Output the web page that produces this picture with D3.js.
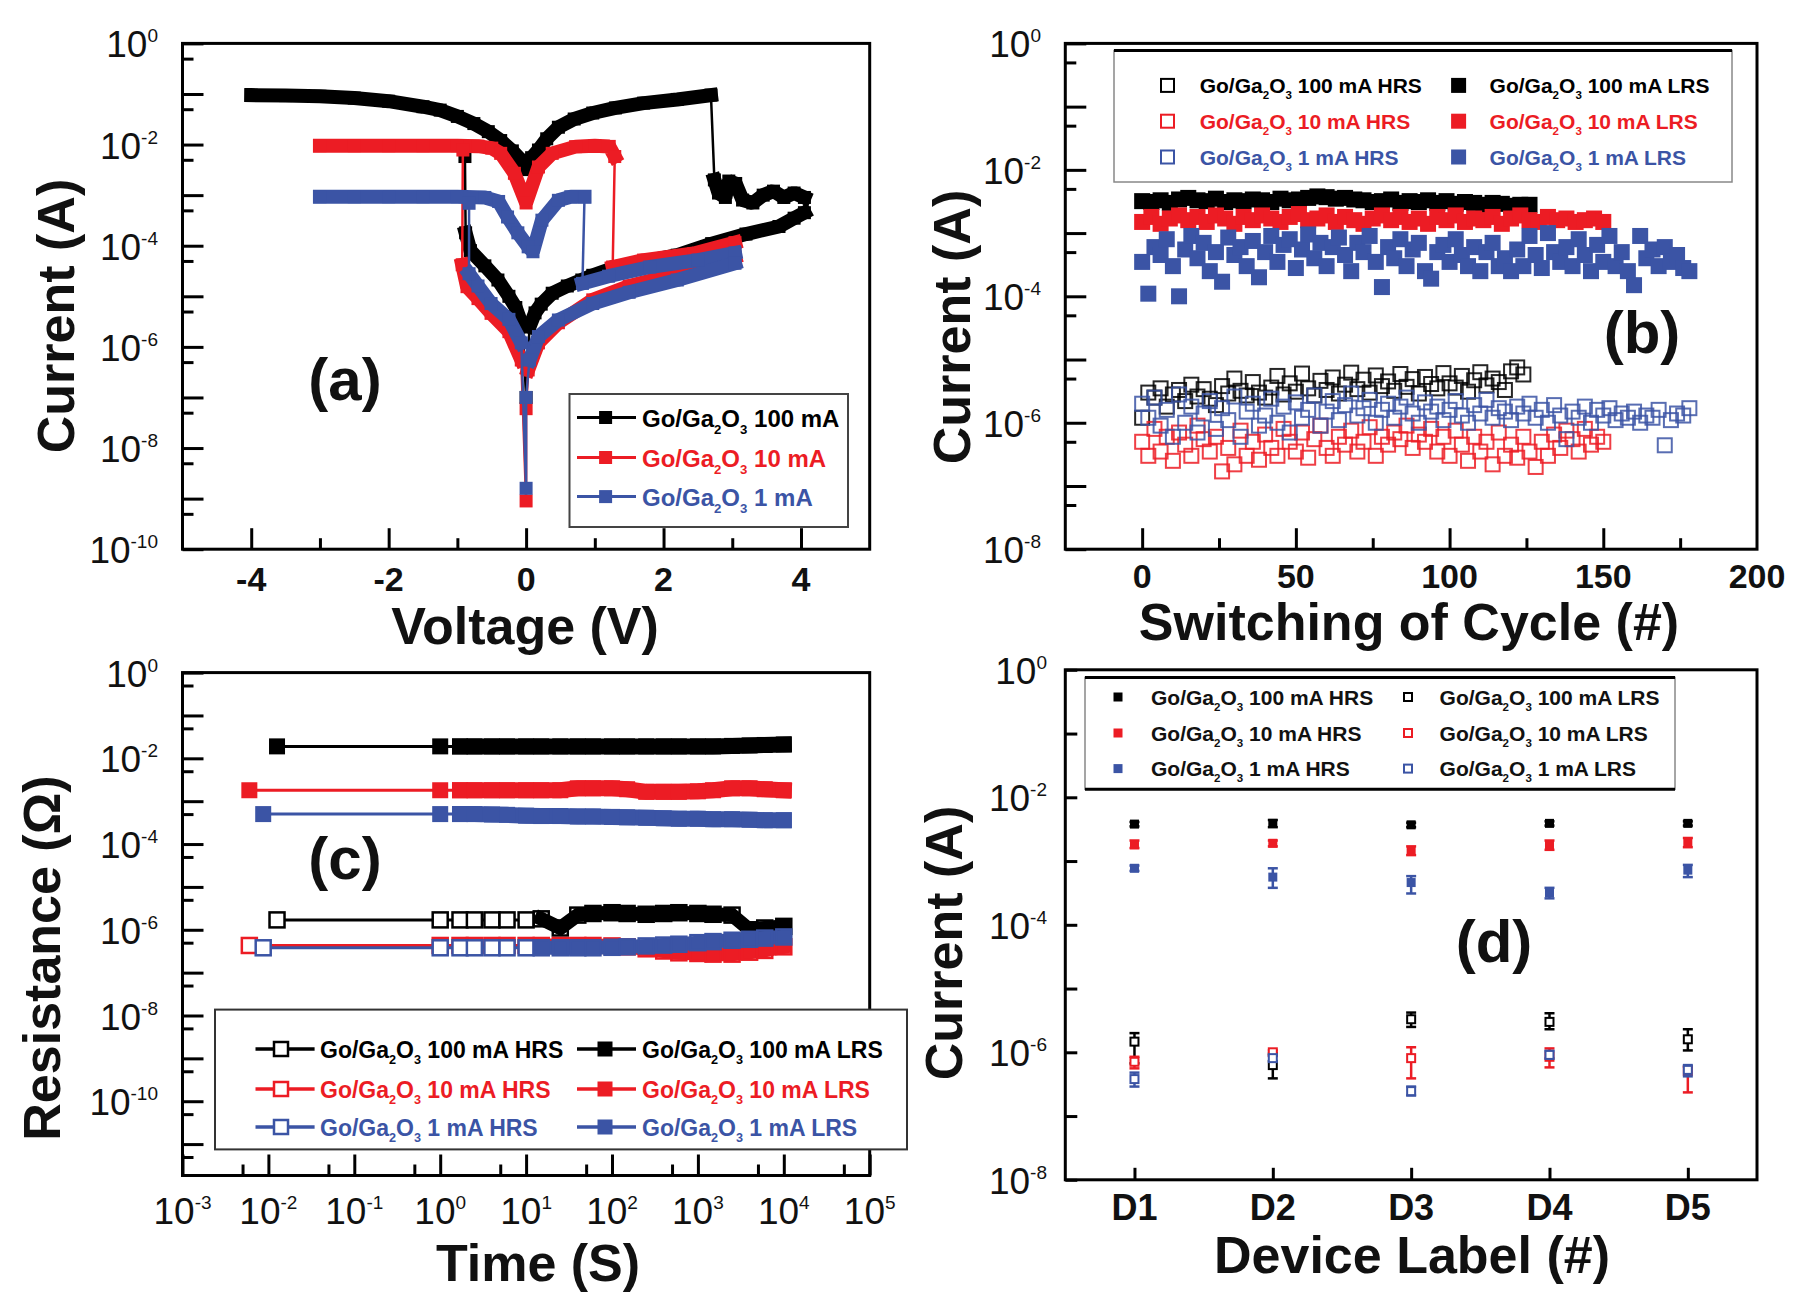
<!DOCTYPE html>
<html>
<head>
<meta charset="UTF-8">
<title>Go/Ga2O3 resistive switching</title>
<script src="https://d3js.org/d3.v7.min.js"></script>
<style>
  body { margin: 0; background: #fff; }
  svg { display: block; }
</style>
</head>
<body>
<div id="chart"></div>
<script>
// ---------- (a) I-V sweeps, [voltage V, current A], in sweep order ----------
const ivBlackLRS = [[-4.0,9.5e-2],[-3.5,9.3e-2],[-3.0,9.0e-2],[-2.5,8.3e-2],[-2.0,7.2e-2],[-1.5,5.6e-2],[-1.25,4.8e-2],[-1.0,3.6e-2],[-0.76,2.6e-2],[-0.55,1.8e-2],[-0.37,1.2e-2],[-0.2,7.5e-3],[-0.07,4.9e-3],[0.0,3.2e-3],[0.08,5.5e-3],[0.18,7.8e-3],[0.3,1.3e-2],[0.47,2.2e-2],[0.7,3.2e-2],[0.97,4.2e-2],[1.3,5.3e-2],[1.71,6.6e-2],[2.2,7.8e-2],[2.69,9.5e-2]];
const ivBlackReset = [[2.74,2.0e-3],[2.8,1.1e-3],[2.9,9e-4],[2.95,1.9e-3],[3.05,1.7e-3],[3.15,8e-4],[3.3,7e-4],[3.45,1.0e-3],[3.6,1.2e-3],[3.75,9e-4],[3.9,1.1e-3],[4.05,9e-4]];
const ivBlackHRS = [[4.05,4.5e-4],[3.9,3.5e-4],[3.68,2.4e-4],[3.2,1.7e-4],[2.7,1.1e-4],[2.2,6.5e-5],[1.7,4.8e-5],[1.31,3.8e-5],[0.97,2.6e-5],[0.81,2.1e-5],[0.6,1.6e-5],[0.38,1.15e-5],[0.22,7e-6],[0.13,4.7e-6],[0.05,2.5e-6]];
const ivBlackDip = [[0.0,1e-7]];
const ivBlackNeg = [[-0.05,2.5e-6],[-0.15,6e-6],[-0.25,1e-5],[-0.41,2.1e-5],[-0.6,4e-5],[-0.81,8e-5],[-0.88,1.8e-4]];
const ivBlackSet = [[-0.89,5.8e-3]];

const ivRedLRS = [[-3.0,9.5e-3],[-2.5,9.5e-3],[-2.0,9.5e-3],[-1.5,9.5e-3],[-1.0,9.5e-3],[-0.7,9.3e-3],[-0.5,8.5e-3],[-0.37,6.7e-3],[-0.17,2.7e-3],[0.0,7e-4],[0.18,3.6e-3],[0.38,6.7e-3],[0.72,9.1e-3],[1.0,9.5e-3],[1.21,9.2e-3],[1.29,5.8e-3]];
const ivRedReset = [[1.26,3.8e-5],[1.71,5.2e-5],[2.44,7.0e-5],[3.04,1.15e-4]];
const ivRedHRS = [[3.04,6e-5],[2.2,2.8e-5],[1.5,1.6e-5],[0.97,8.5e-6],[0.47,3e-6],[0.18,1.2e-6],[0.03,3.5e-7]];
const ivRedDip = [[0.0,6e-8],[0.0,9e-10]];
const ivRedNeg = [[-0.07,5.5e-7],[-0.25,2e-6],[-0.51,4.6e-6],[-0.7,9e-6],[-0.86,1.55e-5],[-0.93,4.2e-5]];
const ivRedSet = [[-0.92,7.8e-3]];

const ivBlueLRS = [[-3.0,9.3e-4],[-2.5,9.3e-4],[-2.0,9.3e-4],[-1.5,9.3e-4],[-1.0,9.3e-4],[-0.6,9e-4],[-0.4,7.5e-4],[-0.27,3.7e-4],[-0.12,1.8e-4],[0.03,9.5e-5],[0.1,7.6e-5],[0.23,3.2e-4],[0.47,7.9e-4],[0.65,9.3e-4],[0.85,9.3e-4]];
const ivBlueReset = [[0.82,1.8e-5],[1.2,2.5e-5],[1.8,3.8e-5],[2.5,5.2e-5],[3.04,7.2e-5]];
const ivBlueHRS = [[3.04,4.5e-5],[2.2,2.1e-5],[1.5,1.2e-5],[0.97,7.2e-6],[0.47,3.4e-6],[0.18,1.6e-6],[0.05,5.5e-7]];
const ivBlueDip = [[0.0,1e-7],[0.0,1.6e-9]];
const ivBlueNeg = [[-0.07,1.2e-6],[-0.25,3.5e-6],[-0.51,7.2e-6],[-0.7,1.6e-5],[-0.83,2.8e-5]];
const ivBlueSet = [[-0.83,6.9e-4]];

const aLegend = ["100 mA", "10 mA", "1 mA"];
const aXTicks = [-4, -2, 0, 2, 4];
const aYExp = [0, -2, -4, -6, -8, -10];

// ---------- (b) endurance: one value every `step` cycles, starting at cycle 0 ----------
const bLrsStep = 3;   // LRS black / red
const bBlueLrsStep = 2;
const bHrsStep = 2;
const bBlackLRS_mA = [3.2,3.1,3.3,3.0,3.4,3.6,3.3,3.2,3.5,3.1, 3.3,3.2,3.4,3.3,3.1,3.5,3.3,3.4,3.6,3.8, 3.7,3.5,3.6,3.4,3.3,3.1,3.2,3.4,3.0,3.2, 3.1,3.3,3.0,3.2,2.9,3.1,3.0,2.8,3.0,2.9, 2.7,2.8,2.8];
const bRedLRS_mA = [1.5,1.8,1.4,1.7,1.9,1.6,1.8,1.5,1.9,1.7, 1.4,1.8,1.6,1.9,1.7,1.5,1.8,2.0,1.6,1.7, 1.9,1.5,1.8,1.6,1.4,1.7,1.9,1.6,1.8,1.5, 1.7,1.4,1.8,1.6,1.9,1.5,1.7,1.6,1.8,1.4, 1.7,1.9,1.6,1.5,1.8,1.6,1.7,1.5,1.6,1.7, 1.5];
const bBlueLRS_mA = [0.35,0.11,0.6,0.45,0.8,0.3,0.1,0.55,0.9,0.4, 0.7,0.25,0.5,0.17,0.85,0.45,0.6,0.3,0.75,0.2, 0.5,0.9,0.35,0.65,0.8,0.28,0.55,0.95,0.4,0.7, 0.3,0.6,0.85,0.45,0.25,0.7,0.5,0.9,0.35,0.14, 0.6,0.4,0.8,0.3,0.55,0.7,0.25,0.19,0.5,0.65, 0.35,0.8,0.45,0.3,0.6,0.25,0.5,0.7,0.3,0.4, 0.25,0.55,0.3,0.9,0.45,0.28,1.0,0.5,0.35,0.6, 0.3,0.8,0.45,0.25,0.65,0.35,0.9,0.3,0.5,0.25, 0.15,0.9,0.4,0.55,0.3,0.6,0.35,0.45,0.28,0.25];
const bBlackHRS_uA = [1.2,3.0,2.5,3.5,1.8,2.8,3.3,2.2,4.0,2.6, 3.4,2.4,1.9,3.8,2.9,5.0,3.2,2.7,4.4,3.0, 2.5,3.6,5.5,2.8,4.2,3.1,6.0,3.5,2.7,4.6, 3.3,5.2,2.9,4.0,6.2,3.4,4.8,3.0,5.6,3.8, 4.5,3.2,5.9,3.7,4.9,2.9,5.3,4.1,3.5,6.1, 4.2,3.6,5.5,3.1,4.7,6.3,3.9,5.0,4.4,3.3, 6.5,7.5,5.8];
const bRedHRS_uA = [0.5,0.3,0.8,0.35,0.6,0.25,0.7,0.45,0.3,0.9, 0.55,0.35,0.6,0.17,0.4,0.22,0.75,0.3,0.5,0.26, 0.65,0.4,0.3,0.8,0.5,0.35,0.7,0.28,0.55,0.9, 0.4,0.3,0.6,0.45,0.75,0.35,0.5,0.85,0.3,0.6, 0.45,0.7,0.55,0.9,0.4,0.65,0.5,0.8,0.35,0.6, 0.3,0.75,0.45,0.25,0.6,0.35,0.5,0.22,0.7,0.3, 0.45,0.28,0.6,0.35,0.2,0.5,0.3,0.65,0.4,0.75, 0.55,0.35,0.8,0.45,0.6,0.5];
const bBlueHRS_uA = [2.0,1.2,2.5,0.9,1.6,0.6,2.8,1.0,1.8,0.7, 1.4,2.2,0.8,1.7,1.1,2.6,0.6,1.5,2.0,0.9, 1.3,2.4,1.0,1.8,0.7,2.1,1.2,1.6,2.7,0.9, 1.5,2.2,1.1,1.9,2.9,1.3,1.7,2.3,1.0,1.6, 2.0,1.2,1.8,2.5,1.4,1.0,2.1,1.5,1.8,1.1, 1.6,2.2,1.3,1.0,1.9,1.4,2.3,1.2,1.7,1.5, 1.1,1.8,1.4,2.0,1.2,1.6,1.0,1.9,1.3,0.55, 1.5,1.2,1.8,1.0,1.6,1.3,1.7,1.1,1.4,1.2, 1.5,1.0,1.3,1.2,1.6,0.44,1.1,1.4,1.3,1.7];
const bLegend = ["100 mA", "10 mA", "1 mA"];
const bXTicks = [0, 50, 100, 150, 200];
const bYExp = [0, -2, -4, -6, -8];

// ---------- (c) retention: time (s) and current ----------
const tBlack = [0.0126, 1, 1.7, 2.5, 4, 6, 10, 15, 25, 40, 60, 100, 150, 250, 400, 600, 1000, 1500, 2500, 4000, 6000, 10000];
const tRed   = [0.006, 1, 1.7, 2.5, 4, 6, 10, 15, 25, 40, 60, 100, 150, 250, 400, 600, 1000, 1500, 2500, 4000, 6000, 10000];
const tBlue  = [0.0087, 1, 1.7, 2.5, 4, 6, 10, 15, 25, 40, 60, 100, 150, 250, 400, 600, 1000, 1500, 2500, 4000, 6000, 10000];
const cBlackLRS = [1.9e-2,1.9e-2,1.9e-2,1.9e-2,1.9e-2,1.9e-2,1.9e-2,1.9e-2,1.9e-2,1.9e-2,1.9e-2,1.9e-2,1.9e-2,1.9e-2,1.9e-2,1.9e-2,1.9e-2,1.9e-2,1.95e-2,2.0e-2,2.05e-2,2.1e-2];
const cRedLRS = [1.8e-3,1.8e-3,1.8e-3,1.8e-3,1.8e-3,1.8e-3,1.8e-3,1.8e-3,1.8e-3,2.0e-3,2.0e-3,2.0e-3,1.9e-3,1.65e-3,1.65e-3,1.65e-3,1.7e-3,1.8e-3,2.0e-3,2.0e-3,1.9e-3,1.8e-3];
const cBlueLRS = [5e-4,5e-4,5e-4,5e-4,4.9e-4,4.8e-4,4.6e-4,4.5e-4,4.5e-4,4.4e-4,4.4e-4,4.3e-4,4.2e-4,4.1e-4,4.0e-4,3.9e-4,3.9e-4,3.8e-4,3.8e-4,3.7e-4,3.6e-4,3.6e-4];
const cBlackHRS = [1.7e-6,1.7e-6,1.7e-6,1.7e-6,1.7e-6,1.7e-6,1.7e-6,1.8e-6,1.1e-6,2.2e-6,2.4e-6,2.5e-6,2.4e-6,2.3e-6,2.4e-6,2.5e-6,2.4e-6,2.3e-6,2.2e-6,1.0e-6,1.1e-6,1.2e-6];
const cRedHRS = [4.3e-7,4.3e-7,4.3e-7,4.3e-7,4.3e-7,4.3e-7,4.3e-7,4.3e-7,4.3e-7,4.3e-7,4.3e-7,4.2e-7,4.0e-7,3.6e-7,3.2e-7,2.9e-7,2.8e-7,2.7e-7,2.7e-7,3.0e-7,3.3e-7,4.0e-7];
const cBlueHRS = [3.8e-7,3.8e-7,3.8e-7,3.8e-7,3.8e-7,3.8e-7,3.8e-7,3.8e-7,3.8e-7,3.8e-7,3.8e-7,3.9e-7,4.0e-7,4.2e-7,4.4e-7,4.6e-7,5.0e-7,5.3e-7,5.7e-7,6.0e-7,6.4e-7,6.8e-7];
const cXExp = [-3, -2, -1, 0, 1, 2, 3, 4, 5];
const cYExp = [0, -2, -4, -6, -8, -10];

// ---------- (d) device-to-device: value, low, high ----------
const devices = ["D1", "D2", "D3", "D4", "D5"];
const dHrs100 = [3.8e-3, 3.9e-3, 3.7e-3, 3.9e-3, 3.9e-3];
const dHrs100Lo = [3.5e-3, 3.4e-3, 3.4e-3, 3.6e-3, 3.6e-3];
const dHrs100Hi = [4.1e-3, 4.4e-3, 4.0e-3, 4.2e-3, 4.2e-3];
const dHrs10 = [1.8e-3, 1.9e-3, 1.44e-3, 1.8e-3, 2.0e-3];
const dHrs10Lo = [1.6e-3, 1.7e-3, 1.24e-3, 1.5e-3, 1.65e-3];
const dHrs10Hi = [2.1e-3, 2.1e-3, 1.7e-3, 2.1e-3, 2.3e-3];
const dHrs1 = [7.7e-4, 5.6e-4, 4.6e-4, 3.2e-4, 7.2e-4];
const dHrs1Lo = [7.0e-4, 3.8e-4, 3.1e-4, 2.6e-4, 5.6e-4];
const dHrs1Hi = [8.5e-4, 7.7e-4, 5.8e-4, 3.8e-4, 8.7e-4];
const dLrs100 = [1.47e-6, 6.3e-7, 3.3e-6, 3.0e-6, 1.6e-6];
const dLrs100Lo = [6.7e-7, 3.9e-7, 2.5e-6, 2.3e-6, 1.07e-6];
const dLrs100Hi = [2.0e-6, 9.6e-7, 4.2e-6, 4.1e-6, 2.3e-6];
const dLrs10 = [7.1e-7, 1.0e-6, 8.1e-7, 8.5e-7, 5.1e-7];
const dLrs10Lo = [5.6e-7, 8.9e-7, 3.9e-7, 5.8e-7, 2.35e-7];
const dLrs10Hi = [8.5e-7, 1.07e-6, 1.2e-6, 1.15e-6, 5.9e-7];
const dLrs1 = [3.8e-7, 8.1e-7, 2.46e-7, 9.1e-7, 5.3e-7];
const dLrs1Lo = [2.9e-7, 7.3e-7, 2.1e-7, 8.0e-7, 4.2e-7];
const dLrs1Hi = [4.8e-7, 9.0e-7, 2.9e-7, 1.05e-6, 6.3e-7];
const dYExp = [0, -2, -4, -6, -8];

const legendHRS = ["100 mA HRS", "10 mA HRS", "1 mA HRS"];
const legendLRS = ["100 mA LRS", "10 mA LRS", "1 mA LRS"];

// ---------- drawing ----------
const W = 1794, H = 1312;
const FONT = "'Liberation Sans', Arial, Helvetica, sans-serif";
const BLACK = "#000000", RED = "#ec1c24", BLUE = "#3b54a5";
const COLORS = [BLACK, RED, BLUE];

const svg = d3.select("#chart").append("svg")
  .attr("width", W).attr("height", H)
  .attr("font-family", FONT);

const boxA = {x0: 182.5, x1: 869.7, y0: 43.4, y1: 549.2};
const boxB = {x0: 1065.3, x1: 1757, y0: 43.4, y1: 549.2};
const boxC = {x0: 182.5, x1: 869.7, y0: 672.6, y1: 1175.5};
const boxD = {x0: 1065.3, x1: 1757, y0: 669.8, y1: 1179.8};

const decades = (hi, lo) => d3.range(hi, lo - 1, -1).map(e => Math.pow(10, e));
const fives = (hi, lo) => d3.range(hi, lo - 1, -1).map(e => 5 * Math.pow(10, e));

function ticks(g, box, x, y, cfg) {
  const add = (axis, tr) => g.append("g").attr("transform", tr).call(axis);
  add(d3.axisLeft(y).tickValues(cfg.yMajor).tickSize(-cfg.long).tickSizeOuter(0).tickFormat(""), `translate(${box.x0},0)`);
  if (cfg.yMinor) add(d3.axisLeft(y).tickValues(cfg.yMinor).tickSize(-cfg.short).tickSizeOuter(0).tickFormat(""), `translate(${box.x0},0)`);
  add(d3.axisBottom(x).tickValues(cfg.xMajor).tickSize(-cfg.long).tickSizeOuter(0).tickFormat(""), `translate(0,${box.y1})`);
  if (cfg.xMinor) add(d3.axisBottom(x).tickValues(cfg.xMinor).tickSize(-cfg.short).tickSizeOuter(0).tickFormat(""), `translate(0,${box.y1})`);
  g.selectAll(".domain").remove();
  g.selectAll(".tick line").attr("stroke", "#000").attr("stroke-width", 3);
}

function frame(g, box) {
  g.append("rect").attr("x", box.x0).attr("y", box.y0)
    .attr("width", box.x1 - box.x0).attr("height", box.y1 - box.y0)
    .attr("fill", "none").attr("stroke", "#000").attr("stroke-width", 3);
}

function powLabel(g, x, y, exp, anchor) {
  const t = g.append("text").attr("x", x).attr("y", y).attr("text-anchor", anchor)
    .attr("font-size", 37).attr("fill", "#111");
  t.append("tspan").text("10");
  t.append("tspan").attr("dy", -15).attr("font-size", 19).text(exp);
}

function yPowLabels(g, box, y, exps, rightX) {
  exps.forEach(e => powLabel(g, rightX, y(Math.pow(10, e)) + 14, e, "end"));
}

function title(g, txt, x, y, rot) {
  const t = g.append("text").attr("font-size", 52).attr("font-weight", "bold")
    .attr("text-anchor", "middle").attr("fill", "#111").text(txt);
  if (rot) t.attr("transform", `translate(${x},${y}) rotate(-90)`);
  else t.attr("x", x).attr("y", y);
}

function panelTag(g, txt, x, y) {
  g.append("text").attr("x", x).attr("y", y).attr("text-anchor", "middle")
    .attr("font-size", 60).attr("font-weight", "bold").attr("fill", "#111").text(txt);
}

function goText(g, x, y, rest, size, color) {
  const t = g.append("text").attr("x", x).attr("y", y).attr("font-size", size)
    .attr("font-weight", "bold").attr("fill", color);
  t.append("tspan").text("Go/Ga");
  t.append("tspan").attr("dy", size * 0.3).attr("font-size", size * 0.55).text("2");
  t.append("tspan").attr("dy", -size * 0.3).text("O");
  t.append("tspan").attr("dy", size * 0.3).attr("font-size", size * 0.55).text("3");
  t.append("tspan").attr("dy", -size * 0.3).text(" " + rest);
}

function square(g, cx, cy, s, color, filled, sw) {
  g.append("rect").attr("x", cx - s / 2).attr("y", cy - s / 2).attr("width", s).attr("height", s)
    .attr("fill", filled ? color : "none").attr("stroke", color).attr("stroke-width", filled ? 0 : (sw || 2));
}

// ===== panel (a) =====
{
  const g = svg.append("g");
  const x = d3.scaleLinear().domain([-5, 5]).range([boxA.x0, boxA.x1]);
  const y = d3.scaleLog().domain([1e-10, 1]).range([boxA.y1, boxA.y0]);
  ticks(g, boxA, x, y, {yMajor: decades(0, -10), yMinor: fives(-1, -10), xMajor: aXTicks, xMinor: [-3, -1, 1, 3], long: 21, short: 11});

  const sweeps = [
    [[ivBlackLRS, 1], [ivBlackReset, 1], [ivBlackHRS, 1], [ivBlackDip, 0], [ivBlackNeg, 1], [ivBlackSet, 0]],
    [[ivRedLRS, 1], [ivRedReset, 1], [ivRedHRS, 1], [ivRedDip, 0], [ivRedNeg, 1], [ivRedSet, 0]],
    [[ivBlueLRS, 1], [ivBlueReset, 1], [ivBlueHRS, 1], [ivBlueDip, 0], [ivBlueNeg, 1], [ivBlueSet, 0]]
  ];
  const line = d3.line().x(d => x(d[0])).y(d => y(d[1]));
  sweeps.forEach((branches, i) => {
    const c = COLORS[i];
    const all = branches.flatMap(b => b[0]);
    g.append("path").attr("d", line(all)).attr("fill", "none").attr("stroke", c).attr("stroke-width", 2.5);
    branches.filter(b => b[1]).forEach(b => {
      g.append("path").attr("d", line(b[0])).attr("fill", "none").attr("stroke", c)
        .attr("stroke-width", 14).attr("stroke-linejoin", "bevel").attr("stroke-linecap", "square");
    });
    all.forEach(d => square(g, x(d[0]), y(d[1]), 13, c, true));
  });
  frame(g, boxA);

  yPowLabels(g, boxA, y, aYExp, 158);
  aXTicks.forEach(v => g.append("text").attr("x", x(v)).attr("y", 591).attr("text-anchor", "middle")
    .attr("font-size", 34).attr("font-weight", "bold").attr("fill", "#111").text(v));
  title(g, "Voltage (V)", 525, 644, false);
  title(g, "Current (A)", 74, 316, true);
  panelTag(g, "(a)", 345, 400);

  // legend
  g.append("rect").attr("x", 569.5).attr("y", 394).attr("width", 278.5).attr("height", 133)
    .attr("fill", "#fff").attr("stroke", "#444").attr("stroke-width", 2);
  aLegend.forEach((lab, i) => {
    const ry = [417.5, 457.5, 496.6][i];
    g.append("line").attr("x1", 577).attr("x2", 636).attr("y1", ry).attr("y2", ry)
      .attr("stroke", COLORS[i]).attr("stroke-width", 3);
    square(g, 605.6, ry, 13, COLORS[i], true);
    goText(g, 642, ry + 9, lab, 24, COLORS[i]);
  });
}

// ===== panel (b) =====
{
  const g = svg.append("g");
  const x = d3.scaleLinear().domain([-25, 200]).range([boxB.x0, boxB.x1]);
  const y = d3.scaleLog().domain([1e-8, 1]).range([boxB.y1, boxB.y0]);
  ticks(g, boxB, x, y, {yMajor: decades(0, -8), yMinor: fives(-1, -8), xMajor: [0, 50, 100, 150], xMinor: [25, 75, 125, 175], long: 21, short: 11});

  const lrs = [[bBlackLRS_mA, bLrsStep], [bRedLRS_mA, bLrsStep], [bBlueLRS_mA, bBlueLrsStep]];
  const hrs = [bBlackHRS_uA, bRedHRS_uA, bBlueHRS_uA];
  hrs.forEach((vals, i) => {
    g.append("g").selectAll("rect").data(vals).join("rect")
      .attr("x", (d, k) => x(k * bHrsStep) - 7).attr("y", d => y(d * 1e-6) - 7)
      .attr("width", 14).attr("height", 14)
      .attr("fill", "none").attr("stroke", COLORS[i]).attr("stroke-width", 2).attr("stroke-opacity", 0.85);
  });
  lrs.forEach(([vals, step], i) => {
    g.append("g").selectAll("rect").data(vals).join("rect")
      .attr("x", (d, k) => x(k * step) - 8).attr("y", d => y(d * 1e-3) - 8)
      .attr("width", 16).attr("height", 16).attr("fill", COLORS[i]);
  });
  frame(g, boxB);

  yPowLabels(g, boxB, y, bYExp, 1041);
  bXTicks.forEach(v => g.append("text").attr("x", x(v)).attr("y", 588).attr("text-anchor", "middle")
    .attr("font-size", 34).attr("font-weight", "bold").attr("fill", "#111").text(v));
  title(g, "Switching of Cycle (#)", 1409, 640, false);
  title(g, "Current (A)", 970, 327, true);
  panelTag(g, "(b)", 1642, 353);

  g.append("rect").attr("x", 1114).attr("y", 50.5).attr("width", 618).attr("height", 131.5)
    .attr("fill", "#fff").attr("stroke", "#888").attr("stroke-width", 1.5);
  g.append("line").attr("x1", 1114).attr("x2", 1732).attr("y1", 50.5).attr("y2", 50.5)
    .attr("stroke", "#000").attr("stroke-width", 3);
  bLegend.forEach((lab, i) => {
    const ry = [85.4, 121.2, 157][i];
    square(g, 1167.5, ry, 13, COLORS[i], false, 2);
    goText(g, 1199.7, ry + 7.5, legendHRS[i], 21, COLORS[i]);
    square(g, 1458.6, ry, 15, COLORS[i], true);
    goText(g, 1489.6, ry + 7.5, legendLRS[i], 21, COLORS[i]);
  });
}

// ===== panel (c) =====
{
  const g = svg.append("g");
  const x = d3.scaleLog().domain([1e-3, 1e5]).range([boxC.x0, boxC.x1]);
  const y = d3.scaleLog().domain([1.85e-12, 1]).range([boxC.y1, boxC.y0]);
  ticks(g, boxC, x, y, {yMajor: decades(0, -11), yMinor: fives(-1, -12), xMajor: decades(5, -3), xMinor: fives(4, -3), long: 21, short: 11});

  const line = d3.line().x(d => x(d[0])).y(d => y(d[1]));
  const series = [
    [tBlack, cBlackHRS, 0, false], [tRed, cRedHRS, 1, false], [tBlue, cBlueHRS, 2, false],
    [tBlack, cBlackLRS, 0, true], [tRed, cRedLRS, 1, true], [tBlue, cBlueLRS, 2, true]
  ];
  series.forEach(([ts, vs, ci, filled]) => {
    const c = COLORS[ci];
    const pts = ts.map((t, k) => [t, vs[k]]);
    const denseFrom = filled ? 1.7 : 15;
    g.append("path").attr("d", line(pts)).attr("fill", "none").attr("stroke", c).attr("stroke-width", 3);
    // dense logging merges the markers into a band
    const dense = pts.filter(d => d[0] >= denseFrom);
    g.append("path").attr("d", line(dense)).attr("fill", "none").attr("stroke", c)
      .attr("stroke-width", filled ? 16 : 14).attr("stroke-linecap", "square");
    pts.forEach(d => {
      if (filled) square(g, x(d[0]), y(d[1]), 16, c, true);
      else {
        g.append("rect").attr("x", x(d[0]) - 7.5).attr("y", y(d[1]) - 7.5).attr("width", 15).attr("height", 15)
          .attr("fill", d[0] >= denseFrom ? "none" : "#fff").attr("stroke", c).attr("stroke-width", 2.5);
      }
    });
  });
  frame(g, boxC);

  yPowLabels(g, boxC, y, cYExp, 158);
  cXExp.forEach(e => powLabel(g, x(Math.pow(10, e)), 1224, e, "middle"));
  title(g, "Time (S)", 538, 1281, false);
  title(g, "Resistance (\u03A9)", 60, 958, true);
  panelTag(g, "(c)", 345, 879);

  g.append("rect").attr("x", 215).attr("y", 1009.6).attr("width", 692).attr("height", 139.8)
    .attr("fill", "#fff").attr("stroke", "#333").attr("stroke-width", 2);
  [0, 1, 2].forEach(i => {
    const ry = [1049, 1089, 1127][i];
    g.append("line").attr("x1", 255.5).attr("x2", 314.6).attr("y1", ry).attr("y2", ry)
      .attr("stroke", COLORS[i]).attr("stroke-width", 3.5);
    g.append("rect").attr("x", 274).attr("y", ry - 7).attr("width", 14).attr("height", 14)
      .attr("fill", "#fff").attr("stroke", COLORS[i]).attr("stroke-width", 2.5);
    goText(g, 320, ry + 8.5, legendHRS[i], 23, COLORS[i]);
    g.append("line").attr("x1", 577).attr("x2", 636).attr("y1", ry).attr("y2", ry)
      .attr("stroke", COLORS[i]).attr("stroke-width", 3.5);
    square(g, 605, ry, 15, COLORS[i], true);
    goText(g, 642, ry + 8.5, legendLRS[i], 23, COLORS[i]);
  });
}

// ===== panel (d) =====
{
  const g = svg.append("g");
  const x = d3.scaleLinear().domain([0.5, 5.5]).range([boxD.x0, boxD.x1]);
  const y = d3.scaleLog().domain([1e-8, 1]).range([boxD.y1, boxD.y0]);
  ticks(g, boxD, x, y, {yMajor: decades(0, -8), xMajor: [1, 2, 3, 4, 5], long: 12});

  const sets = [
    [dHrs100, dHrs100Lo, dHrs100Hi, 0, true], [dHrs10, dHrs10Lo, dHrs10Hi, 1, true], [dHrs1, dHrs1Lo, dHrs1Hi, 2, true],
    [dLrs100, dLrs100Lo, dLrs100Hi, 0, false], [dLrs10, dLrs10Lo, dLrs10Hi, 1, false], [dLrs1, dLrs1Lo, dLrs1Hi, 2, false]
  ];
  sets.forEach(([v, lo, hi, ci, filled]) => {
    const c = COLORS[ci];
    v.forEach((val, k) => {
      const cx = x(k + 1);
      g.append("line").attr("x1", cx).attr("x2", cx).attr("y1", y(lo[k])).attr("y2", y(hi[k]))
        .attr("stroke", c).attr("stroke-width", 2.5);
      [lo[k], hi[k]].forEach(b => g.append("line").attr("x1", cx - 5).attr("x2", cx + 5)
        .attr("y1", y(b)).attr("y2", y(b)).attr("stroke", c).attr("stroke-width", 2.5));
      if (filled) square(g, cx, y(val), 9, c, true);
      else g.append("rect").attr("x", cx - 4).attr("y", y(val) - 4).attr("width", 8).attr("height", 8)
        .attr("fill", "#fff").attr("stroke", c).attr("stroke-width", 2);
    });
  });
  frame(g, boxD);

  yPowLabels(g, boxD, y, dYExp, 1047);
  devices.forEach((dv, k) => g.append("text").attr("x", x(k + 1)).attr("y", 1220).attr("text-anchor", "middle")
    .attr("font-size", 36).attr("font-weight", "bold").attr("fill", "#111").text(dv));
  title(g, "Device Label (#)", 1412, 1273, false);
  title(g, "Current (A)", 962, 943, true);
  panelTag(g, "(d)", 1494, 962);

  g.append("rect").attr("x", 1085).attr("y", 677.4).attr("width", 590).attr("height", 111.9)
    .attr("fill", "#fff").attr("stroke", "#888").attr("stroke-width", 1.5);
  [677.4, 789.3].forEach(yy => g.append("line").attr("x1", 1085).attr("x2", 1675).attr("y1", yy).attr("y2", yy)
    .attr("stroke", "#000").attr("stroke-width", 3));
  [0, 1, 2].forEach(i => {
    const ry = [697, 733, 768.6][i];
    square(g, 1118, ry, 9, COLORS[i], true);
    goText(g, 1151, ry + 7.5, legendHRS[i], 21, "#111");
    g.append("rect").attr("x", 1404).attr("y", ry - 4).attr("width", 8).attr("height", 8)
      .attr("fill", "#fff").attr("stroke", COLORS[i]).attr("stroke-width", 2);
    goText(g, 1439.6, ry + 7.5, legendLRS[i], 21, "#111");
  });
}
</script>
</body>
</html>
